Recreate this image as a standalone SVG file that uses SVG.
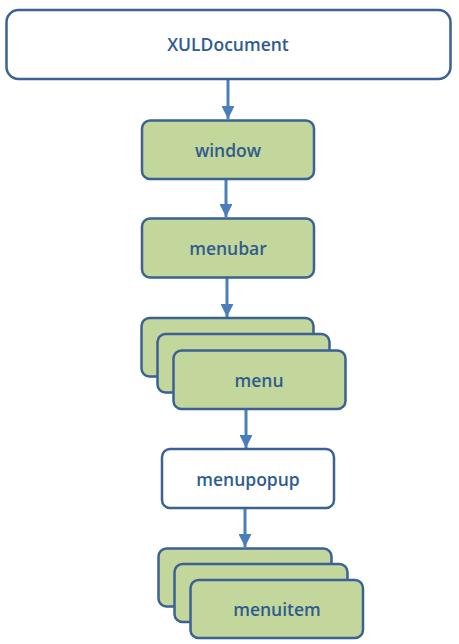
<svg xmlns="http://www.w3.org/2000/svg" width="459" height="644" viewBox="0 0 459 644">
<defs>
<style>
.box{stroke:#3A6293;stroke-width:2.5}
.g{fill:#C3D69B}
.w{fill:#FFFFFF}
.t{font-family:"Open Sans","Liberation Sans",sans-serif;font-weight:600;font-size:17.5px;fill:#2F5C8F;text-anchor:middle;dominant-baseline:central}
.c{stroke:#4A7EBB;stroke-width:3;fill:none}
</style>
<marker id="ah" viewBox="0 0 10 10" refX="10" refY="5" markerWidth="4.3" markerHeight="4.3" orient="auto" markerUnits="strokeWidth">
<path d="M0,0 L10,5 L0,10 z" fill="#4A7EBB"/>
</marker>
</defs>
<rect width="459" height="644" fill="#FFFFFF"/>
<g id="connectors">
<line class="c" x1="228" y1="79" x2="228" y2="119" marker-end="url(#ah)"/>
<line class="c" x1="226" y1="179" x2="226" y2="217" marker-end="url(#ah)"/>
<line class="c" x1="227" y1="278" x2="227" y2="317" marker-end="url(#ah)"/>
<line class="c" x1="246" y1="409" x2="246" y2="448" marker-end="url(#ah)"/>
<line class="c" x1="245" y1="508" x2="245" y2="547" marker-end="url(#ah)"/>
</g>
<g id="XULDocument">
<rect class="box w" x="6.5" y="10" width="444" height="69" rx="12"/>
<text class="t" x="228" y="44">XULDocument</text>
</g>
<g id="window">
<rect class="box g" x="142" y="120.5" width="172" height="58.5" rx="8"/>
<text class="t" x="228" y="150">window</text>
</g>
<g id="menubar">
<rect class="box g" x="142" y="218.5" width="172" height="59" rx="8"/>
<text class="t" x="228" y="248">menubar</text>
</g>
<g id="menu">
<rect class="box g" x="141.5" y="318" width="172" height="58.5" rx="8"/>
<rect class="box g" x="157.5" y="334" width="172" height="58.5" rx="8"/>
<rect class="box g" x="173.5" y="350.5" width="172" height="58.5" rx="8"/>
<text class="t" x="259" y="380">menu</text>
</g>
<g id="menupopup">
<rect class="box w" x="162" y="449" width="172" height="59" rx="8"/>
<text class="t" x="248" y="479">menupopup</text>
</g>
<g id="menuitem">
<rect class="box g" x="158.5" y="548.5" width="173" height="58" rx="8"/>
<rect class="box g" x="174.5" y="564" width="173" height="58" rx="8"/>
<rect class="box g" x="190.5" y="580" width="172.5" height="58" rx="8"/>
<text class="t" x="277" y="609">menuitem</text>
</g>
</svg>
